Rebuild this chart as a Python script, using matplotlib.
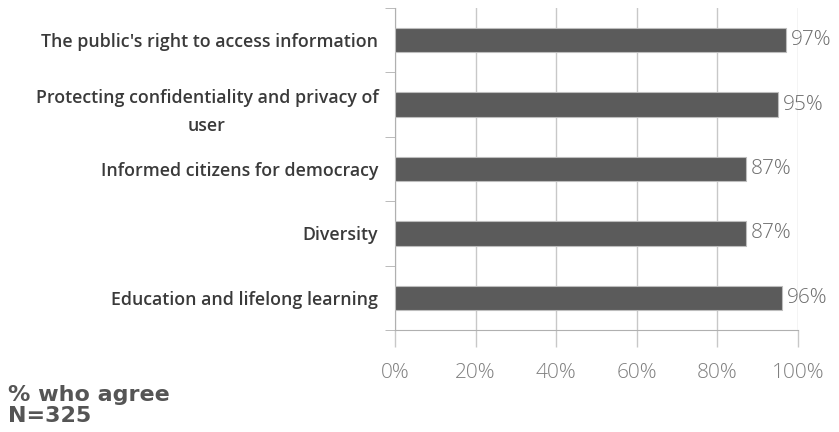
import matplotlib.pyplot as plt
from matplotlib.ticker import FixedLocator

categories = ["The public's right to access information",
              "Protecting confidentiality and privacy of\nuser",
              "Informed citizens for democracy",
              "Diversity",
              "Education and lifelong learning"]
values = [97, 95, 87, 87, 96]
xticks = [0, 20, 40, 60, 80, 100]

fig = plt.figure(figsize=(8.39, 4.32), dpi=100)
ax = fig.add_axes([0.4708, 0.2361, 0.4803, 0.7454])

pos = list(range(len(categories)))
ax.barh(pos, values, height=0.38, color='#5b5b5b', edgecolor='#bdbdbd', linewidth=0.8, zorder=3)
ax.set_ylim(len(categories) - 0.5, -0.5)
ax.set_xlim(0, 100)

for p, v in zip(pos, values):
    ax.text(v + 1.2, p, f'{v}%', va='center', ha='left', fontsize=15,
            color='#6e6e6e', family='Open Sans', fontweight='light')

# grid and spines
ax.set_xticks(xticks)
ax.set_xticklabels([f'{t}%' for t in xticks], fontsize=15, color='#808080',
                   family='Open Sans', fontweight='light')
ax.xaxis.grid(True, color='#c8c8c8', linewidth=1, zorder=0)
ax.tick_params(axis='x', length=12, width=1, color='#c8c8c8', pad=12)
for s in ['top', 'right']:
    ax.spines[s].set_visible(False)
ax.spines['left'].set_color('#b0b0b0')
ax.spines['bottom'].set_color('#b0b0b0')

ax.set_yticks(pos)
ax.set_yticklabels(categories, fontsize=12.8, color='#3a3a3a', fontweight='semibold',
                   family='Open Sans', ha='right', multialignment='center', linespacing=1.75)
ax.tick_params(axis='y', length=0, pad=12)
ax.yaxis.set_minor_locator(FixedLocator([-0.5, 0.5, 1.5, 2.5, 3.5, 4.5]))
ax.tick_params(axis='y', which='minor', length=7, color='#b0b0b0')

fig.text(0.0095, 0.015, '% who agree\nN=325', fontsize=16, fontweight='bold',
         color='#555555', family='DejaVu Sans', linespacing=1.05, va='bottom')

fig.savefig('out.png', dpi=100)
